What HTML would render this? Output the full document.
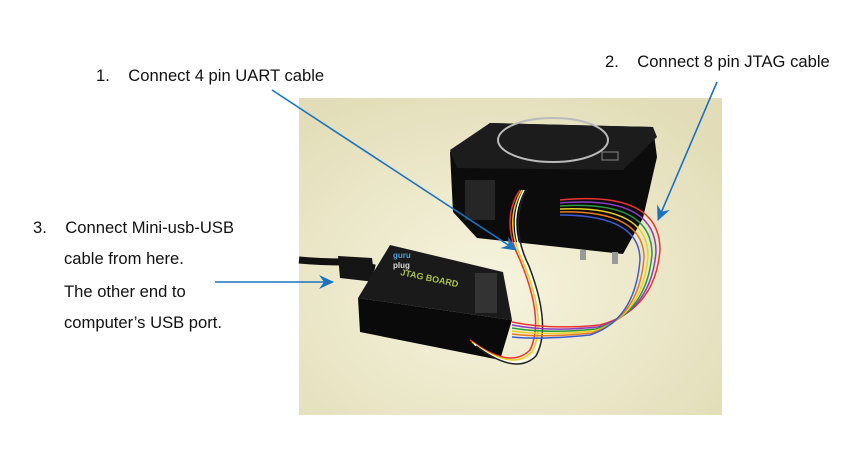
<!DOCTYPE html>
<html><head><meta charset="utf-8"><style>
body{margin:0;width:856px;height:459px;background:#fff;overflow:hidden;font-family:"Liberation Sans",sans-serif}
.t{position:absolute;font-size:16.6px;color:#111;white-space:nowrap}
</style></head><body>
<svg width="856" height="459" style="position:absolute;left:0;top:0">
<defs>
<radialGradient id="bg" cx="0.45" cy="0.6" r="0.7">
<stop offset="0" stop-color="#f6f4de"/><stop offset="1" stop-color="#e2ddb8"/></radialGradient>
<marker id="ah" markerWidth="16" markerHeight="16" refX="14" refY="8" orient="auto" markerUnits="userSpaceOnUse">
<path d="M0,1 L15,8 L0,15 L5,8 z" fill="#1a73c0"/></marker>
</defs>
<rect x="299" y="98" width="423" height="317" fill="url(#bg)"/>
<polygon points="450,152 453,212 477,238 623,254 643,218 657,157 653,127 490,123" fill="#0c0c0c"/>
<polygon points="450,150 490,123 653,127 657,137 623,170 457,168" fill="#1c1c1c"/>
<ellipse cx="553" cy="140" rx="55" ry="22" fill="none" stroke="#bbb" stroke-width="2"/>
<rect x="602" y="152" width="16" height="8" fill="none" stroke="#888" stroke-width="1"/>
<rect x="465" y="180" width="30" height="40" fill="#262626"/>
<rect x="612" y="252" width="6" height="12" fill="#999"/><rect x="580" y="250" width="6" height="10" fill="#999"/>
<path d="M299,260 Q320,262 345,262 L375,268" stroke="#111" stroke-width="7" fill="none"/>
<polygon points="338,256 372,258 375,282 340,278" fill="#151515"/>
<polygon points="358,298 390,245 503,272 512,320" fill="#1a1a1a"/>
<polygon points="358,298 512,320 500,360 360,332" fill="#0a0a0a"/>
<rect x="475" y="273" width="22" height="40" fill="#333"/>
<text x="400" y="275" font-size="9" fill="#a9c24a" font-weight="bold" transform="rotate(12 400 275)">JTAG BOARD</text>
<text x="393" y="258" font-size="8" fill="#4aa0d8" font-weight="bold">guru</text>
<text x="393" y="268" font-size="8" fill="#ddd" font-weight="bold">plug</text>
<g fill="none" stroke-width="1.5">
<path d="M520,190 Q500,220 520,260 Q545,320 530,350 Q510,370 470,340" stroke="#e33"/>
<path d="M522,190 Q503,222 523,262 Q548,322 532,352 Q512,372 472,342" stroke="#e8d020"/>
<path d="M524,190 Q506,224 526,264 Q550,324 534,354 Q514,374 474,344" stroke="#fff"/>
<path d="M526,190 Q509,226 529,266 Q552,326 536,356 Q516,376 476,346" stroke="#222"/>
<path d="M560,200 Q660,190 660,250 Q655,310 600,325 Q550,330 512,322" stroke="#e33"/>
<path d="M560,203 Q656,195 656,252 Q651,312 598,327 Q548,332 512,325" stroke="#8a3cc8"/>
<path d="M560,206 Q652,200 652,254 Q647,314 596,329 Q546,334 512,328" stroke="#2a9a3a"/>
<path d="M560,209 Q648,205 648,256 Q643,316 594,331 Q544,336 512,331" stroke="#e8d020"/>
<path d="M560,212 Q644,210 644,258 Q639,318 592,333 Q542,338 512,334" stroke="#e87a20"/>
<path d="M560,215 Q640,215 640,260 Q635,320 590,335 Q540,340 512,337" stroke="#3a5ad8"/>
</g>
<g stroke="#1a73c0" stroke-width="1.6" fill="none">
<line x1="272" y1="90" x2="516" y2="250" marker-end="url(#ah)"/>
<line x1="717" y1="82" x2="658" y2="220" marker-end="url(#ah)"/>
<line x1="215" y1="282" x2="333" y2="282" marker-end="url(#ah)"/>
</g>
</svg>
<div class="t" style="left:96px;top:66px">1.&nbsp;&nbsp;&nbsp;&nbsp;Connect 4 pin UART cable</div>
<div class="t" style="left:605px;top:52px">2.&nbsp;&nbsp;&nbsp;&nbsp;Connect 8 pin JTAG cable</div>
<div class="t" style="left:33px;top:218px">3.&nbsp;&nbsp;&nbsp;&nbsp;Connect Mini-usb-USB</div>
<div class="t" style="left:64px;top:249px">cable from here.</div>
<div class="t" style="left:64px;top:282px">The other end to</div>
<div class="t" style="left:64px;top:313px">computer’s USB port.</div>
</body></html>
